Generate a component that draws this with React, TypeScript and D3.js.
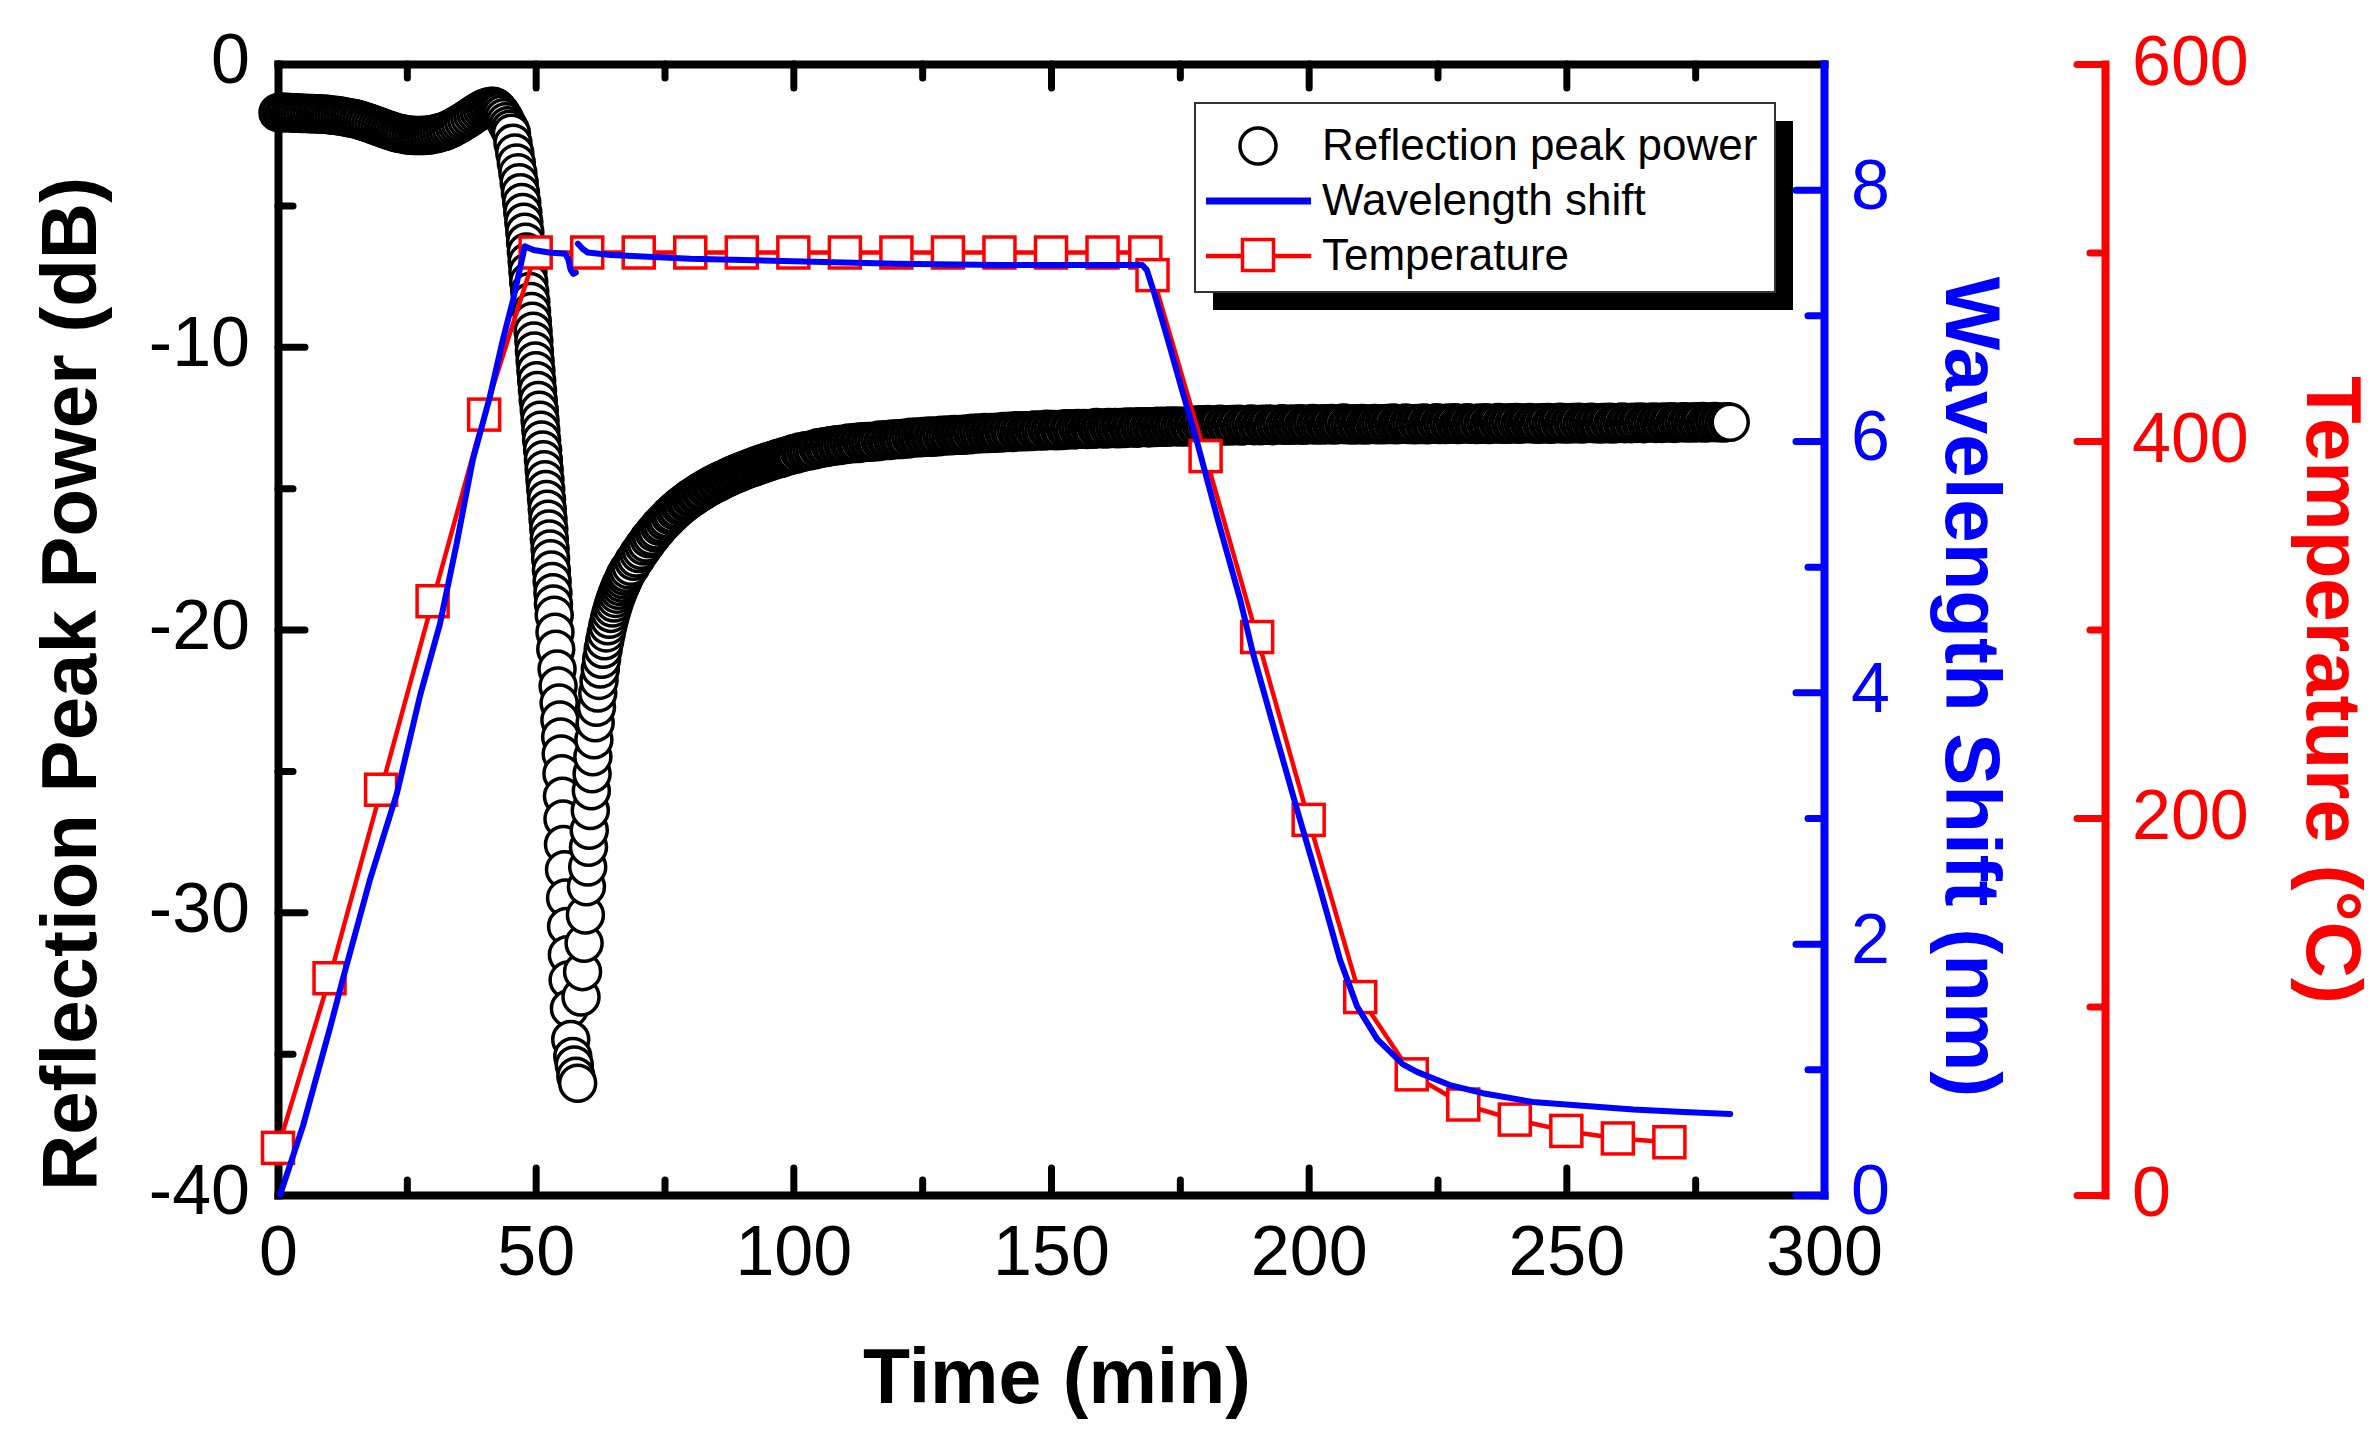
import React, { useEffect, useRef } from 'react';
import * as d3 from 'd3';

const WIDTH = 2380;
const HEIGHT = 1448;
const FONT = '"Liberation Sans", Arial, Helvetica, sans-serif';
const BLUE = '#0000ff';
const RED = '#ff0000';

// Reflection peak power (dB) while heating, sampled every 0.6 min from 0 min
const heatingStart = 0;
const heatingStep = 0.6;
const heatingPower = [
  -1.72, -1.70, -1.73, -1.71, -1.72, -1.74, -1.72, -1.73, -1.75, -1.74,
  -1.76, -1.75, -1.77, -1.76, -1.78, -1.77, -1.79, -1.80, -1.81, -1.82,
  -1.84, -1.86, -1.88, -1.90, -1.92, -1.94, -1.97, -2.00, -2.04, -2.07,
  -2.11, -2.15, -2.19, -2.23, -2.27, -2.31, -2.35, -2.38, -2.42, -2.45,
  -2.47, -2.49, -2.51, -2.52, -2.53, -2.53, -2.53, -2.53, -2.52, -2.51,
  -2.49, -2.47, -2.44, -2.41, -2.38, -2.33, -2.28, -2.22, -2.16, -2.10,
  -2.03, -1.96, -1.89, -1.81, -1.74, -1.67, -1.61, -1.56, -1.52, -1.50
];

// The drop and the fast rise around the dip: [time (min), power (dB)]
const dipPower: [number, number][] = [
  [41.6, -1.49], [42.0, -1.51], [42.3, -1.55], [42.6, -1.60], [43.0, -1.68],
  [43.4, -1.78], [43.8, -1.90], [44.2, -2.04], [44.6, -2.18], [45.0, -2.31],
  [45.3, -2.45], [45.6, -2.80], [45.95, -3.15], [46.25, -3.50], [46.55, -3.85],
  [46.8, -4.20], [47.05, -4.55], [47.3, -4.90], [47.5, -5.25], [47.7, -5.60],
  [47.9, -5.95], [48.05, -6.30], [48.2, -6.65], [48.35, -7.00], [48.5, -7.35],
  [48.65, -7.70], [48.85, -8.05], [49.05, -8.40], [49.2, -8.75], [49.35, -9.10],
  [49.5, -9.45], [49.65, -9.80], [49.75, -10.15], [49.9, -10.50], [50.05, -10.85],
  [50.2, -11.20], [50.35, -11.55], [50.5, -11.90], [50.7, -12.25], [50.85, -12.60],
  [51.0, -12.95], [51.15, -13.30], [51.35, -13.65], [51.5, -14.00], [51.65, -14.35],
  [51.8, -14.70], [51.95, -15.05], [52.1, -15.40], [52.25, -15.75], [52.4, -16.10],
  [52.55, -16.45], [52.65, -16.80], [52.8, -17.15], [52.9, -17.50], [53.05, -17.90],
  [53.2, -18.30], [53.35, -18.70], [53.45, -19.10], [53.6, -19.50], [53.75, -20.10],
  [53.9, -20.70], [54.15, -21.40], [54.35, -22.00], [54.55, -22.60], [54.7, -23.20],
  [54.85, -23.80], [54.95, -24.40], [55.1, -25.10], [55.2, -25.90], [55.3, -26.70],
  [55.4, -27.60], [55.6, -28.50], [55.8, -29.50], [56.0, -30.50], [56.15, -31.50],
  [56.3, -32.40], [56.55, -33.40], [56.8, -34.50], [57.2, -35.10], [57.5, -35.40],
  [57.8, -35.80], [58.15, -36.05],
  [58.8, -33.0], [59.1, -32.1], [59.4, -31.1], [59.65, -30.1], [59.85, -29.1],
  [60.1, -28.4], [60.25, -27.7], [60.4, -27.1], [60.6, -26.4], [60.8, -25.7],
  [60.95, -25.1], [61.1, -24.5], [61.3, -23.9], [61.55, -23.3], [61.8, -22.75],
  [62.05, -22.25], [62.3, -21.8], [62.55, -21.4], [62.8, -21.05], [63.1, -20.7],
  [63.4, -20.4], [63.7, -20.12], [64.0, -19.87], [64.3, -19.64], [64.6, -19.43],
  [64.9, -19.24], [65.2, -19.06], [65.5, -18.9], [65.8, -18.75], [66.1, -18.61],
  [66.4, -18.48], [66.7, -18.36], [67.0, -18.24], [67.3, -18.12], [67.6, -18.01]
];

// Recovery, sampled every 0.5 min from 68 min
const recoveryStart = 68;
const recoveryStep = 0.5;
const recoveryPower = [
  -17.89, -17.76, -17.59, -17.47, -17.31, -17.20, -17.05, -16.94, -16.79, -16.70,
  -16.57, -16.48, -16.35, -16.27, -16.16, -16.08, -15.97, -15.91, -15.80, -15.74,
  -15.64, -15.59, -15.50, -15.45, -15.36, -15.32, -15.24, -15.20, -15.12, -15.09,
  -15.01, -14.98, -14.91, -14.88, -14.81, -14.79, -14.72, -14.70, -14.64, -14.61,
  -14.55, -14.53, -14.47, -14.46, -14.40, -14.38, -14.33, -14.31, -14.26, -14.25,
  -14.19, -14.18, -14.13, -14.12, -14.07, -14.06, -14.01, -14.00, -13.95, -13.95,
  -13.90, -13.89, -13.85, -13.84
];

// Stable level, sampled every 0.6 min from 100 min
const plateauStart = 100;
const plateauStep = 0.6;
const plateauPower = [
  -13.78, -13.79, -13.72, -13.73, -13.68, -13.69, -13.64, -13.64, -13.57, -13.59,
  -13.54, -13.56, -13.50, -13.52, -13.47, -13.49, -13.45, -13.46, -13.40, -13.43,
  -13.39, -13.42, -13.36, -13.39, -13.35, -13.38, -13.34, -13.36, -13.30, -13.33,
  -13.29, -13.32, -13.26, -13.29, -13.25, -13.28, -13.24, -13.26, -13.20, -13.23,
  -13.19, -13.22, -13.17, -13.20, -13.16, -13.20, -13.16, -13.18, -13.13, -13.16,
  -13.12, -13.15, -13.10, -13.13, -13.10, -13.13, -13.09, -13.11, -13.06, -13.09,
  -13.05, -13.08, -13.03, -13.07, -13.03, -13.06, -13.02, -13.05, -13.00, -13.03,
  -12.99, -13.03, -12.97, -13.01, -12.97, -13.01, -12.97, -13.00, -12.94, -12.98,
  -12.94, -12.98, -12.92, -12.96, -12.93, -12.97, -12.93, -12.96, -12.90, -12.94,
  -12.90, -12.94, -12.89, -12.92, -12.89, -12.93, -12.89, -12.92, -12.86, -12.90,
  -12.87, -12.91, -12.86, -12.89, -12.86, -12.90, -12.86, -12.89, -12.84, -12.87,
  -12.84, -12.88, -12.83, -12.86, -12.83, -12.87, -12.83, -12.86, -12.81, -12.85,
  -12.81, -12.85, -12.80, -12.83, -12.80, -12.84, -12.81, -12.84, -12.79, -12.83,
  -12.77, -12.81, -12.76, -12.80, -12.75, -12.81, -12.77, -12.79, -12.74, -12.80,
  -12.76, -12.80, -12.75, -12.79, -12.74, -12.80, -12.76, -12.78, -12.73, -12.79,
  -12.75, -12.79, -12.74, -12.78, -12.73, -12.79, -12.75, -12.77, -12.72, -12.78,
  -12.74, -12.78, -12.73, -12.77, -12.72, -12.78, -12.74, -12.76, -12.71, -12.77,
  -12.73, -12.77, -12.72, -12.76, -12.71, -12.77, -12.73, -12.75, -12.70, -12.76,
  -12.73, -12.77, -12.72, -12.76, -12.71, -12.77, -12.73, -12.75, -12.71, -12.76,
  -12.72, -12.76, -12.71, -12.75, -12.70, -12.76, -12.72, -12.74, -12.70, -12.75,
  -12.72, -12.76, -12.71, -12.75, -12.70, -12.76, -12.72, -12.74, -12.69, -12.75,
  -12.71, -12.75, -12.70, -12.74, -12.69, -12.75, -12.71, -12.73, -12.69, -12.74,
  -12.71, -12.75, -12.70, -12.74, -12.69, -12.75, -12.71, -12.73, -12.68, -12.74,
  -12.70, -12.74, -12.69, -12.73, -12.68, -12.74, -12.70, -12.72, -12.68, -12.73,
  -12.70, -12.74, -12.69, -12.73, -12.68, -12.74, -12.70, -12.72, -12.67, -12.73,
  -12.69, -12.73, -12.68, -12.72, -12.67, -12.73, -12.69, -12.71, -12.67, -12.72,
  -12.69, -12.73, -12.68, -12.72, -12.67, -12.73, -12.69, -12.71, -12.66, -12.72,
  -12.68, -12.72, -12.67, -12.71, -12.66, -12.72, -12.68, -12.70, -12.66, -12.71,
  -12.67, -12.71, -12.66, -12.70, -12.65, -12.71, -12.67, -12.69, -12.65, -12.70,
  -12.66, -12.70, -12.65, -12.69, -12.64, -12.70, -12.66, -12.68, -12.64, -12.69,
  -12.66, -12.70, -12.65, -12.67
];

// Wavelength shift (nm); null marks the break in the trace
const shiftTime = [
  0.4, 4.85, 10.1, 12.6, 17.85, 23.1, 27.6, 31.4, 34.7, 37.8, 41.1, 43.6, 45.6, 47.9, 49.6, 52.6,
  55.7, 56.3, 56.8, 57.3, 57.8, 58.0, 58.2, 59.1, 60.1, 64.6, 69.8, 80, 100, 120, 140,
  160, 167.7, 168.6, 170.0, 172.5, 175.6, 178.1, 180.7, 182.4, 186.7, 189.2, 193.5,
  197.8, 202, 206.1, 207.8, 209.4, 213.3, 218.3, 221.0, 227.4, 233.8, 243.5, 253.2,
  263.0, 272.7, 281.8
];
const shiftValue: (number | null)[] = [
  0, 0.55, 1.33, 1.72, 2.51, 3.2, 3.98, 4.54, 5.19, 5.85, 6.35, 6.8, 7.12, 7.55, 7.52, 7.5,
  7.49, 7.45, 7.36, 7.33, 7.34, null, 7.57, 7.53, 7.5, 7.48, 7.47, 7.45, 7.43, 7.41, 7.4,
  7.4, 7.4, 7.36, 7.18, 6.83, 6.38, 6.03, 5.63, 5.37, 4.74, 4.31, 3.68,
  3.06, 2.47, 1.87, 1.68, 1.5, 1.24, 1.04, 0.98, 0.875, 0.81, 0.74, 0.71,
  0.68, 0.66, 0.645
];

// Temperature (°C)
const tempTime = [
  0, 10, 20, 30, 40, 50, 60, 70, 80, 90, 100, 110, 120, 130, 140, 150, 160, 168.3, 169.7,
  180, 190, 200, 210, 220, 230, 240, 250, 260, 270
];
const tempValue = [
  25, 115, 215, 315, 414, 500, 500, 500, 500, 500, 500, 500, 500, 500, 500, 500, 500, 500, 488,
  392, 296, 199, 105, 64, 48, 40, 34, 30, 28
];

const timeTicks = [0, 50, 100, 150, 200, 250, 300];
const timeMinorTicks = [25, 75, 125, 175, 225, 275];
const powerTicks = [0, -10, -20, -30, -40];
const powerMinorTicks = [-5, -15, -25, -35];
const shiftTicks = [0, 2, 4, 6, 8];
const shiftMinorTicks = [1, 3, 5, 7];
const tempTicks = [0, 200, 400, 600];
const tempMinorTicks = [100, 300, 500];
const legendLabels = ['Reflection peak power', 'Wavelength shift', 'Temperature'];

const App: React.FC = () => {
  const svgRef = useRef<SVGSVGElement>(null);

  useEffect(() => {
    const svg = d3.select(svgRef.current);
    svg.selectAll('*').remove();

    const x = d3.scaleLinear().domain([0, 300]).range([278, 1824]);
    const yPower = d3.scaleLinear().domain([-40, 0]).range([1195, 64]);
    const yShift = d3.scaleLinear().domain([0, 9]).range([1195, 64]);
    const yTemp = d3.scaleLinear().domain([0, 600]).range([1195, 64]);
    const [x0, x1] = x.range();
    const [yBottom, yTop] = yPower.range();

    const styleAxis = (g: any, color: string) => {
      g.attr('font-family', FONT).attr('font-size', 70);
      g.select('.domain').attr('stroke', color).attr('stroke-width', 8).attr('stroke-linecap', 'square');
      g.selectAll('.tick line').attr('stroke', color).attr('stroke-width', 7).attr('stroke-linecap', 'round');
      g.selectAll('.tick text').attr('fill', color);
    };
    const minorAxis = (axis: any, tx: number, ty: number, color: string) => {
      const g = svg.append('g').attr('transform', `translate(${tx},${ty})`).call(axis.tickFormat(() => ''));
      g.select('.domain').remove();
      g.selectAll('.tick line').attr('stroke', color).attr('stroke-width', 7).attr('stroke-linecap', 'round');
    };

    // Minor ticks
    minorAxis(d3.axisBottom(x).tickValues(timeMinorTicks).tickSizeInner(-15).tickSizeOuter(0), 0, yBottom, 'black');
    minorAxis(d3.axisTop(x).tickValues(timeMinorTicks).tickSizeInner(-14).tickSizeOuter(0), 0, yTop, 'black');
    minorAxis(d3.axisLeft(yPower).tickValues(powerMinorTicks).tickSizeInner(-15).tickSizeOuter(0), x0, 0, 'black');
    minorAxis(d3.axisRight(yShift).tickValues(shiftMinorTicks).tickSizeInner(-16).tickSizeOuter(0), x1, 0, BLUE);
    minorAxis(d3.axisRight(yTemp).tickValues(tempMinorTicks).tickSizeInner(-15).tickSizeOuter(0), 2105, 0, RED);

    // Main axes
    const bottom = svg.append('g').attr('transform', `translate(0,${yBottom})`)
      .call(d3.axisBottom(x).tickValues(timeTicks).tickSizeInner(-27).tickSizeOuter(0).tickPadding(30).tickFormat(d3.format('d')));
    styleAxis(bottom, 'black');

    const top = svg.append('g').attr('transform', `translate(0,${yTop})`)
      .call(d3.axisTop(x).tickValues(timeTicks).tickSizeInner(-24).tickSizeOuter(0).tickFormat(() => ''));
    styleAxis(top, 'black');

    const left = svg.append('g').attr('transform', `translate(${x0},0)`)
      .call(d3.axisLeft(yPower).tickValues(powerTicks).tickSizeInner(-27).tickSizeOuter(0).tickPadding(28)
        .tickFormat((d: any) => String(d)));
    styleAxis(left, 'black');
    left.selectAll('.tick text').attr('dy', '0.27em');

    const right = svg.append('g').attr('transform', `translate(${x1},0)`)
      .call(d3.axisRight(yShift).tickValues(shiftTicks).tickSizeInner(-28).tickSizeOuter(0).tickPadding(27)
        .tickFormat(d3.format('d')));
    styleAxis(right, BLUE);
    right.selectAll('.tick text').attr('dy', '0.27em');

    const temp = svg.append('g').attr('transform', 'translate(2105,0)')
      .call(d3.axisRight(yTemp).tickValues(tempTicks).tickSizeInner(-28).tickSizeOuter(0).tickPadding(27)
        .tickFormat(d3.format('d')));
    styleAxis(temp, RED);
    temp.selectAll('.tick text').attr('dy', '0.29em');

    // Reflection peak power: open circles drawn in time order
    const reflectionPoints: [number, number][] = [
      ...heatingPower.map((v, i) => [heatingStart + i * heatingStep, v] as [number, number]),
      ...dipPower,
      ...recoveryPower.map((v, i) => [recoveryStart + i * recoveryStep, v] as [number, number]),
      ...plateauPower.map((v, i) => [plateauStart + i * plateauStep, v] as [number, number])
    ];
    svg.append('g')
      .selectAll('circle')
      .data(reflectionPoints)
      .join('circle')
      .attr('cx', d => x(d[0]))
      .attr('cy', d => yPower(d[1]))
      .attr('r', 18)
      .attr('fill', 'white')
      .attr('stroke', 'black')
      .attr('stroke-width', 3.5);

    // Temperature line with square markers
    const tempData = tempTime.map((t, i) => [t, tempValue[i]] as [number, number]);
    const tempLine = d3.line<[number, number]>().x(d => x(d[0])).y(d => yTemp(d[1]));
    svg.append('path')
      .datum(tempData)
      .attr('d', tempLine)
      .attr('fill', 'none')
      .attr('stroke', RED)
      .attr('stroke-width', 4.5)
      .attr('stroke-linejoin', 'round');
    const side = 31;
    svg.append('g')
      .selectAll('rect')
      .data(tempData)
      .join('rect')
      .attr('x', d => x(d[0]) - side / 2)
      .attr('y', d => yTemp(d[1]) - side / 2)
      .attr('width', side)
      .attr('height', side)
      .attr('fill', 'white')
      .attr('stroke', RED)
      .attr('stroke-width', 3.5);

    // Wavelength shift line
    const shiftData = shiftTime.map((t, i) => [t, shiftValue[i]] as [number, number | null]);
    const shiftLine = d3.line<[number, number | null]>()
      .defined(d => d[1] !== null)
      .x(d => x(d[0]))
      .y(d => yShift(d[1] as number));
    svg.append('path')
      .datum(shiftData)
      .attr('d', shiftLine)
      .attr('fill', 'none')
      .attr('stroke', BLUE)
      .attr('stroke-width', 6)
      .attr('stroke-linejoin', 'round')
      .attr('stroke-linecap', 'round');

    // Axis titles
    svg.append('text')
      .attr('transform', 'translate(96,684) rotate(-90)')
      .attr('text-anchor', 'middle')
      .attr('font-family', FONT)
      .attr('font-weight', 'bold')
      .attr('font-size', 78)
      .attr('fill', 'black')
      .text('Reflection Peak Power (dB)');

    svg.append('text')
      .attr('x', 1057)
      .attr('y', 1403)
      .attr('text-anchor', 'middle')
      .attr('font-family', FONT)
      .attr('font-weight', 'bold')
      .attr('font-size', 77)
      .attr('fill', 'black')
      .text('Time (min)');

    svg.append('text')
      .attr('transform', 'translate(1946,687) rotate(90)')
      .attr('text-anchor', 'middle')
      .attr('font-family', FONT)
      .attr('font-weight', 'bold')
      .attr('font-size', 78)
      .attr('fill', BLUE)
      .text('Wavelength Shift (nm)');

    svg.append('text')
      .attr('transform', 'translate(2307,690) rotate(90)')
      .attr('text-anchor', 'middle')
      .attr('font-family', FONT)
      .attr('font-weight', 'bold')
      .attr('font-size', 78)
      .attr('fill', RED)
      .text('Temperature (°C)');

    // Legend
    const legend = svg.append('g').attr('transform', 'translate(1195,103)');
    legend.append('rect').attr('x', 18).attr('y', 18).attr('width', 580).attr('height', 189).attr('fill', 'black');
    legend.append('rect').attr('width', 580).attr('height', 189).attr('fill', 'white')
      .attr('stroke', '#333').attr('stroke-width', 2);
    legend.append('circle').attr('cx', 63).attr('cy', 43).attr('r', 18)
      .attr('fill', 'white').attr('stroke', 'black').attr('stroke-width', 3.5);
    legend.append('line').attr('x1', 11).attr('x2', 116).attr('y1', 98).attr('y2', 98)
      .attr('stroke', BLUE).attr('stroke-width', 7);
    legend.append('line').attr('x1', 11).attr('x2', 116).attr('y1', 153).attr('y2', 153)
      .attr('stroke', RED).attr('stroke-width', 4.5);
    legend.append('rect').attr('x', 63 - side / 2).attr('y', 152 - side / 2).attr('width', side).attr('height', side)
      .attr('fill', 'white').attr('stroke', RED).attr('stroke-width', 3.5);
    legend.selectAll('text.label')
      .data(legendLabels)
      .join('text')
      .attr('class', 'label')
      .attr('x', 127)
      .attr('y', (_, i) => 57 + i * 55)
      .attr('font-family', FONT)
      .attr('font-size', 44)
      .attr('fill', 'black')
      .text(d => d);
  }, []);

  return (
    <div style={{ position: 'absolute', left: 0, top: 0, background: 'white' }}>
      <svg ref={svgRef} width={WIDTH} height={HEIGHT} style={{ display: 'block' }}></svg>
    </div>
  );
};

export default App;
